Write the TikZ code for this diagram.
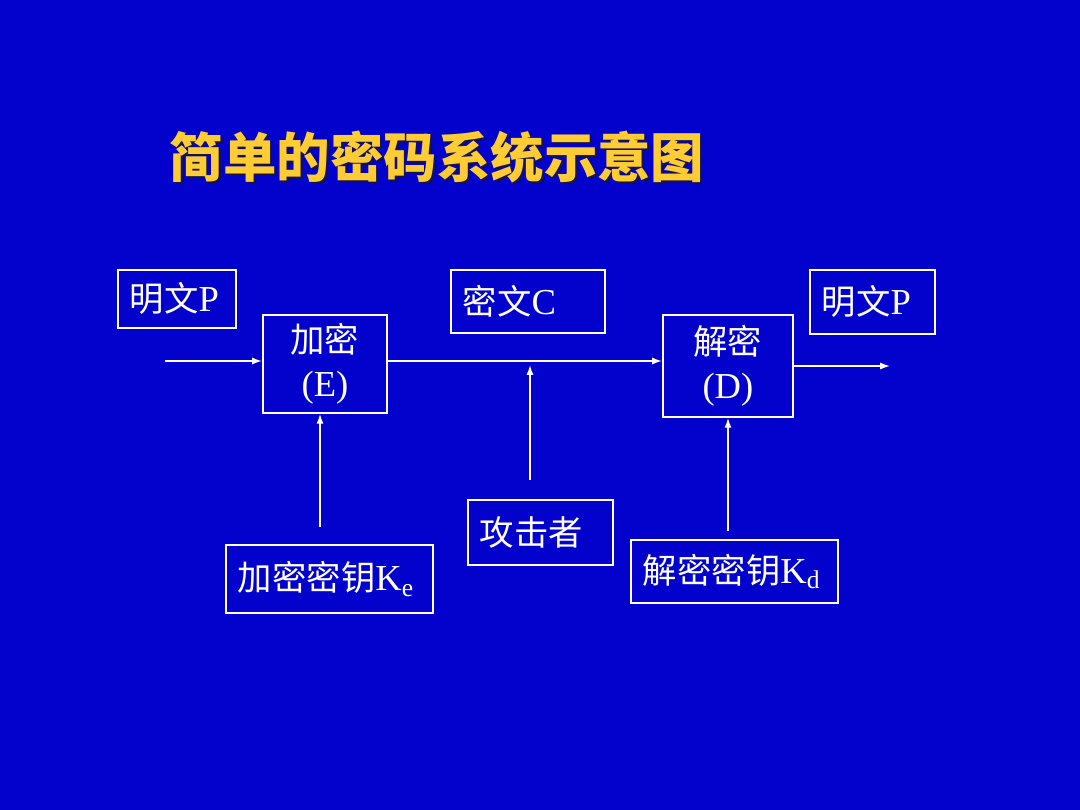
\documentclass[tikz,border=0pt]{standalone}
\usepackage{fontspec}
\setmainfont{Liberation Serif}
\newfontfamily\cjk[Scale=0.94]{Noto Sans CJK SC}
\newfontfamily\cjktitle{Noto Sans CJK SC}
\usetikzlibrary{arrows.meta}
\definecolor{slideblue}{RGB}{2,2,204}
\definecolor{titleyellow}{RGB}{255,204,51}
\definecolor{titleshadow}{RGB}{20,20,70}
\tikzset{
  box/.style={draw=white, line width=1.3pt, text=white, anchor=north west,
    inner xsep=0.3cm, inner ysep=0pt, align=left,
    font=\fontsize{26}{31}\selectfont},
  link/.style={white, line width=1pt, -{Latex[length=7pt,width=5pt]}}
}
\begin{document}
\begin{tikzpicture}[x=0.025cm, y=-0.025cm]
  \fill[slideblue] (0,0) rectangle (1080,810);
  \useasboundingbox (0,0) rectangle (1080,810);
  % title
  \node[anchor=west, text=titleshadow, font=\fontsize{38}{44}\selectfont\cjktitle\bfseries] at (167,159) {简单的密码系统示意图};
  \node[anchor=west, text=titleyellow, font=\fontsize{38}{44}\selectfont\cjktitle\bfseries] (title) at (165,157) {简单的密码系统示意图};
  % boxes
  \node[box, text width=2.35cm, minimum height=1.45cm] (pin) at (117,269) {{\cjk 明文}P};
  \node[box, text width=2.5cm, minimum height=2.45cm, align=center] (enc) at (262,314) {{\cjk 加密}\\(E)};
  \node[box, text width=3.25cm, minimum height=1.575cm] (ctext) at (450,269) {{\cjk 密文}C};
  \node[box, text width=2.65cm, minimum height=2.55cm, align=center] (dec) at (662,314) {{\cjk 解密}\\(D)};
  \node[box, text width=2.525cm, minimum height=1.6cm] (pout) at (809,269) {{\cjk 明文}P};
  \node[box, text width=3.025cm, minimum height=1.625cm] (atk) at (467,499) {\cjk 攻击者};
  \node[box, text width=4.575cm, minimum height=1.7cm] (ke) at (225,544) {{\cjk 加密密钥}K\textsubscript{e}};
  \node[box, text width=4.575cm, minimum height=1.575cm] (kd) at (630,539) {{\cjk 解密密钥}K\textsubscript{d}};
  % connectors
  \coordinate (src) at (165,361);
  \coordinate (dst) at (890,366);
  \coordinate (atkend) at (530,480);
  \coordinate (tap) at (530,365);
  \coordinate (keend) at (320,527);
  \coordinate (kdend) at (728,531);
  \draw[link] (src) -- (src -| enc.west);
  \draw[link] (src -| enc.east) -- (src -| dec.west);
  \draw[link] (dst -| dec.east) -- (dst);
  \draw[link] (atkend) -- (tap);
  \draw[link] (keend) -- (keend |- enc.south);
  \draw[link] (kdend) -- (kdend |- dec.south);
\end{tikzpicture}
\end{document}
